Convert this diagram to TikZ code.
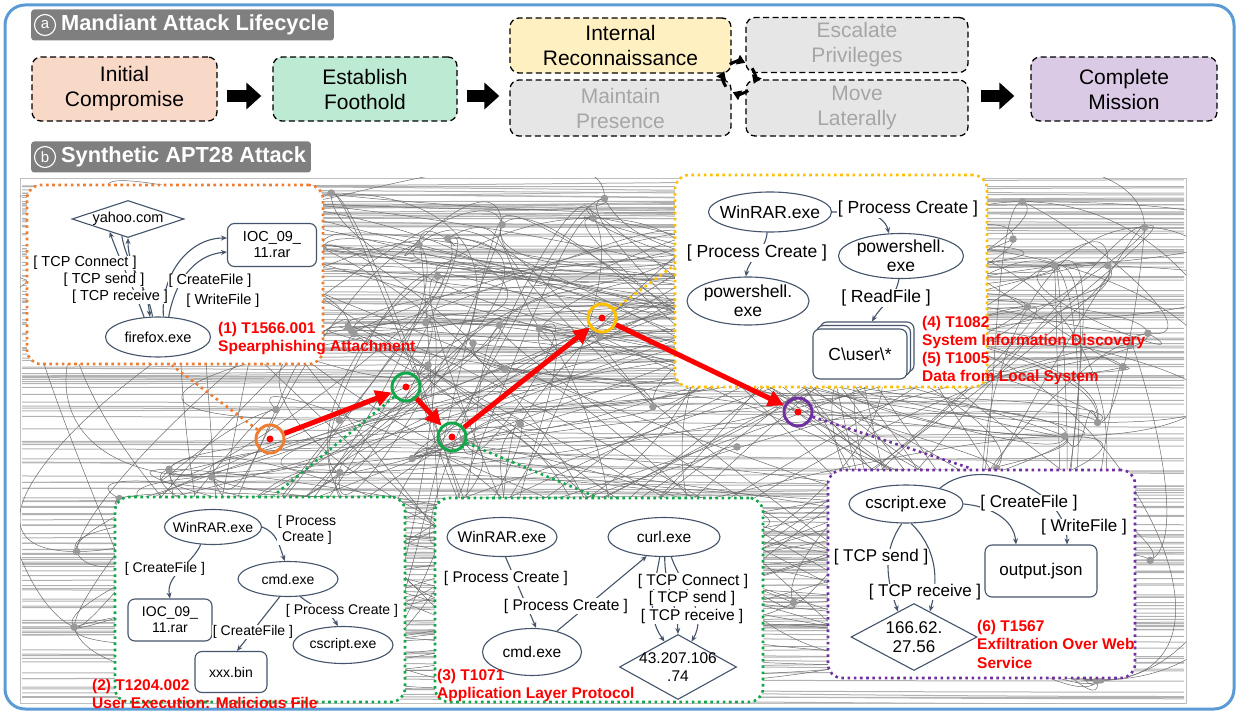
\documentclass[tikz,border=0pt]{standalone}
\usepackage{fontspec}
\setmainfont{Liberation Sans}
\usepackage{xcolor}
\usetikzlibrary{positioning,calc,arrows.meta,shapes.geometric,shadows}

\definecolor{framec}{HTML}{5B9BD5}
\definecolor{peach}{HTML}{F8D9C7}
\definecolor{mint}{HTML}{BDEAD2}
\definecolor{cream}{HTML}{FFF0C2}
\definecolor{lilac}{HTML}{DBCAE5}
\definecolor{greybox}{HTML}{E6E6E6}
\definecolor{greytext}{HTML}{A6A6A6}
\definecolor{tagc}{HTML}{7F7F7F}
\definecolor{edgec}{HTML}{44546A}
\definecolor{orangec}{HTML}{EE7D31}
\definecolor{greenc}{HTML}{12A84A}
\definecolor{yellowc}{HTML}{FFC000}
\definecolor{purplec}{HTML}{7030A0}

\begin{document}
\begin{tikzpicture}[x=1pt,y=1pt,
  phase/.style={draw, dash pattern=on 6pt off 3.5pt, line width=1.3, rounded corners=9, align=center, inner sep=0, font=\fontsize{21}{25}\selectfont},
  idle/.style={phase, fill=greybox, text=greytext, minimum width=222, minimum height=55},
  tag/.style={fill=tagc, text=white, rounded corners=3, inner xsep=5, inner ysep=0, minimum height=31, anchor=west, font=\fontsize{21.8}{23}\selectfont\bfseries},
  tagmark/.style={circle, draw=white, line width=1.1, text=white, minimum size=21, inner sep=0, font=\fontsize{15}{15}\selectfont},
  bigarrow/.style={line width=12, -{Triangle[length=15,width=26]}},
  cyc/.style={line width=3, -{Triangle[length=8,width=10]}},
  band/.style={draw=black!30, line width=1},
  wire/.style={draw=black!58, line width=0.5},
  dotbox/.style={draw=#1, fill=white, line width=2.6, dash pattern=on 2.6pt off 3.6pt, rounded corners=14},
  link/.style={draw=#1, line width=2.6, dash pattern=on 2.6pt off 3.6pt},
  proc/.style={ellipse, draw=edgec, line width=1.1, fill=white, align=center, inner xsep=-7, inner ysep=-2},
  filebox/.style={rounded corners=7, draw=edgec, line width=1.1, fill=white, align=center, inner sep=0},
  ip/.style={diamond, draw=edgec, line width=1.1, fill=white, inner sep=0},
  flow/.style={draw=edgec, line width=1.1, -{Stealth[length=6,width=5]}},
  elab/.style={fill=white, inner sep=0.5},
  tech/.style={text=red, align=left, anchor=north west, inner sep=0, font=\fontsize{15.5}{18.5}\selectfont\bfseries},
  ring/.style={circle, draw=#1, line width=3, minimum size=28, inner sep=0},
  hop/.style={draw=red, line width=5, -{Triangle[length=16,width=16]}}
]
\useasboundingbox (0,0) rectangle (1239,-714);
\draw[framec, line width=3, rounded corners=20] (5,-5) rectangle (1234,-709);

% lifecycle
\node[tag] (taga) at (31,-25) {\hspace*{25pt}Mandiant Attack Lifecycle};
\node[tagmark] (marka) at (45,-25) {a};
\node[phase, fill=peach, minimum width=185, minimum height=64] (ic) at (124.5,-89) {Initial\\Compromise};
\node[phase, fill=mint, minimum width=184, minimum height=64] (ef) at (365,-89) {Establish\\Foothold};
\node[phase, fill=cream, minimum width=221, minimum height=55] (ir) at (620.5,-45.5) {Internal\\Reconnaissance};
\node[idle, minimum width=221, minimum height=56] (mp) at (620.5,-108) {Maintain\\Presence};
\node[idle] (ep) at (857,-45) {Escalate\\Privileges};
\node[idle, minimum height=56] (mlat) at (857,-108) {Move\\Laterally};
\node[phase, fill=lilac, minimum width=186, minimum height=64] (cm) at (1124,-89) {Complete\\Mission};

\draw[bigarrow, shorten <=9, shorten >=11] ([yshift=-7]ic.east) -- ([yshift=-7]ef.west);
\draw[bigarrow, shorten <=9, shorten >=10] ([yshift=-7]ef.east) -- ([yshift=-7]ef.east -| ir.west);
\draw[bigarrow, shorten <=12, shorten >=16] ([yshift=-7]cm.west -| mlat.east) -- ([yshift=-7]cm.west);
\coordinate (cc) at (739,-77.5);
\foreach \s in {125,35,-55,-145}
  \draw[cyc] ([shift={(\s:16)}]cc) arc[start angle=\s, end angle=\s-58, radius=16];

% APT28 graph
\node[tag] (tagb) at (31,-157) {\hspace*{25pt}Synthetic APT28 Attack};
\node[tagmark] (markb) at (45,-157) {b};
\draw[black!25, line width=0.8] (20,-178) rectangle (1186,-703);
\begin{scope}
\clip (20,-178) rectangle (1186,-703);
\pgfmathsetseed{2718}
\foreach \i in {1,...,95}{
  \pgfmathsetmacro\gx{35+1140*rnd}
  \pgfmathsetmacro\gy{-190-505*rnd}
  \coordinate (n\i) at (\gx,\gy);
}
\foreach \k in {1,...,160}{
  \pgfmathsetmacro\ya{-184-514*rnd}
  \pgfmathsetmacro\yb{\ya+24*rnd-12}
  \draw[band] (22,\ya) .. controls (450,\ya) and (750,\yb) .. (1184,\yb);
}
\foreach \k in {1,...,240}{
  \pgfmathtruncatemacro\ea{random(1,95)}
  \pgfmathtruncatemacro\eb{mod(\ea+random(1,90),95)+1}
  \pgfmathtruncatemacro\eo{random(0,359)}
  \pgfmathtruncatemacro\eq{random(0,359)}
  \pgfmathsetmacro\ed{20+80*rnd}
  \draw[wire] (n\ea) .. controls +(\eo:\ed) and +(\eq:\ed) .. (n\eb);
}
\foreach \k in {1,...,25}{
  \pgfmathtruncatemacro\ea{random(1,95)}
  \pgfmathtruncatemacro\eb{mod(\ea+random(1,90),95)+1}
  \pgfmathsetmacro\ed{150+250*rnd}
  \draw[wire] (n\ea) .. controls +(0:\ed) and +(0:\ed) .. (n\eb);
  \draw[wire] (n\eb) .. controls +(180:\ed) and +(180:\ed) .. (n\ea);
}
\foreach \i in {1,...,95}
  \fill[black!40] (n\i) circle[radius=3.8];
\end{scope}

% (1) orange
\node[dotbox=orangec, minimum width=296, minimum height=179] (obox) at (175,-274.5) {};
\begin{scope}[every node/.append style={font=\fontsize{14.5}{16}\selectfont}]
\node[ip, minimum width=112, minimum height=37, label={center:yahoo.com}] (yahoo) at (128,-219) {};
\node[filebox, minimum width=89, minimum height=43] (ioca) at (272,-245) {IOC\_09\_\\11.rar};
\node[proc, minimum width=105, minimum height=40] (ff) at (158,-337) {firefox.exe};
\draw[flow] (ff.125) to[out=110,in=-70] (yahoo.215);
\draw[flow] (ff.105) to[out=100,in=-90] (yahoo.south);
\draw[flow] (yahoo.250) to[out=-80,in=95] (ff.112);
\draw[flow] (ff.75) to[out=95,in=180] ([yshift=7]ioca.west);
\draw[flow] (ff.62) to[out=80,in=185] ([yshift=-7]ioca.west);
\node[elab] at (85,-263) {[ TCP Connect ]};
\node[elab] at (104,-280) {[ TCP send ]};
\node[elab] at (120,-297) {[ TCP receive ]};
\node[elab] at (210,-281) {[ CreateFile ]};
\node[elab] at (223,-301) {[ WriteFile ]};
\end{scope}
\node[tech] (tone) at (218,-322) {(1) T1566.001\\Spearphishing Attachment};

% (4)(5) yellow
\node[dotbox=yellowc, minimum width=312, minimum height=212] (ybox) at (831,-281) {};
\begin{scope}[every node/.append style={font=\fontsize{17.5}{19}\selectfont}]
\node[proc, minimum width=123, minimum height=40] (yw) at (770,-212) {WinRAR.exe};
\node[proc, minimum width=125, minimum height=45] (ypa) at (901,-256) {powershell.\\exe};
\node[proc, minimum width=122, minimum height=48] (ypb) at (748,-301) {powershell.\\exe};
\node[filebox, minimum width=94, minimum height=50,
  copy shadow={shadow xshift=7, shadow yshift=7, draw=edgec, fill=white, line width=1.1},
  copy shadow={shadow xshift=3.5, shadow yshift=3.5, draw=edgec, fill=white, line width=1.1}] (ycu) at (860,-354) {C\textbackslash user\textbackslash *};
\draw[flow] (yw.east) to[out=0,in=105] (ypa.118);
\draw[flow] (yw.262) to[out=-95,in=80] (ypb.95);
\draw[flow] (ypa.265) to[out=-100,in=60] ([xshift=12,yshift=7]ycu.north);
\node[elab] at (908,-209) {[ Process Create ]};
\node[elab] at (757,-253) {[ Process Create ]};
\node[elab] at (886,-298) {[ ReadFile ]};
\end{scope}
\node[tech, font=\fontsize{15.5}{18}\selectfont\bfseries] (tfour) at (922,-316) {(4) T1082\\System Information Discovery\\(5) T1005\\Data from Local System};

% (2) green
\node[dotbox=greenc, minimum width=290, minimum height=205] (gbox1) at (260,-599.5) {};
\begin{scope}[every node/.append style={font=\fontsize{14}{16}\selectfont}]
\node[proc, minimum width=97, minimum height=35] (ga) at (213,-527) {WinRAR.exe};
\node[proc, minimum width=100, minimum height=35] (gb) at (288,-579) {cmd.exe};
\node[filebox, minimum width=84, minimum height=42] (gc) at (170,-620) {IOC\_09\_\\11.rar};
\node[proc, minimum width=100, minimum height=37] (gd) at (343,-645) {cscript.exe};
\node[filebox, minimum width=72, minimum height=41] (ge) at (231,-672) {xxx.bin};
\draw[flow] (ga.235) to[out=245,in=100] (gc.north);
\draw[flow] (ga.east) to[out=-20,in=110] (gb.100);
\draw[flow] (gb.305) to[out=-40,in=120] (gd.105);
\draw[flow] (gb.245) -- ([xshift=6]ge.north);
\node[elab, align=center] at (307,-530) {[ Process\\Create ]};
\node[elab] at (165,-569) {[ CreateFile ]};
\node[elab] at (342,-611) {[ Process Create ]};
\node[elab] at (253,-632) {[ CreateFile ]};
\end{scope}
\node[tech, font=\fontsize{15.5}{18}\selectfont\bfseries] (ttwo) at (92,-679) {(2) T1204.002\\User Execution: Malicious File};

% (3) green
\node[dotbox=greenc, minimum width=328, minimum height=204] (gbox2) at (599,-600) {};
\begin{scope}[every node/.append style={font=\fontsize{15.5}{17.5}\selectfont}]
\node[proc, minimum width=110, minimum height=39] (ha) at (502,-537) {WinRAR.exe};
\node[proc, minimum width=99, minimum height=47] (hb) at (532,-652) {cmd.exe};
\node[proc, minimum width=112, minimum height=39] (hc) at (664,-537) {curl.exe};
\node[ip, minimum width=117, minimum height=65, label={[align=center]center:43.207.106\\.74}] (hd) at (678,-667) {};
\draw[flow] (ha.280) -- (hb.80);
\draw[flow] (hb.40) -- (hc.228);
\draw[flow] (hc.258) to[out=-100,in=125] (hd.118);
\draw[flow] (hc.272) to[out=-90,in=92] (hd.north);
\draw[flow] (hc.290) to[out=-70,in=60] (hd.62);
\node[elab] at (506,-578) {[ Process Create ]};
\node[elab] at (566,-606) {[ Process Create ]};
\node[elab] at (693,-581) {[ TCP Connect ]};
\node[elab] at (692,-598) {[ TCP send ]};
\node[elab] at (692,-616) {[ TCP receive ]};
\end{scope}
\node[tech, font=\fontsize{15.5}{18}\selectfont\bfseries] (tthree) at (437,-669) {(3) T1071\\Application Layer Protocol};

% (6) purple
\node[dotbox=purplec, minimum width=307, minimum height=208] (pbox) at (981.5,-574) {};
\begin{scope}[every node/.append style={font=\fontsize{17}{19}\selectfont}]
\node[proc, minimum width=114, minimum height=38] (pa) at (906,-504) {cscript.exe};
\node[filebox, minimum width=112, minimum height=52] (pb) at (1041,-571) {output.json};
\node[ip, minimum width=126, minimum height=67, label={[align=center]center:166.62.\\27.56}] (pc) at (914,-637) {};
\draw[flow] (pa.east) to[out=-5,in=95] ([xshift=-25]pb.north);
\draw[flow] (pa.25) to[out=40,in=90] ([xshift=26]pb.north);
\draw[flow] (pa.258) to[out=235,in=110] (pc.122);
\draw[flow] (pa.285) to[out=-45,in=75] (pc.58);
\node[elab] at (1029,-503) {[ CreateFile ]};
\node[elab] at (1084,-527) {[ WriteFile ]};
\node[elab] at (881,-557) {[ TCP send ]};
\node[elab] at (925,-592) {[ TCP receive ]};
\end{scope}
\node[tech] (tsix) at (977,-620) {(6) T1567\\Exfiltration Over Web\\Service};

% attack path
\node[ring=orangec] (h1) at (270,-439) {};
\node[ring=greenc] (h2) at (406,-387) {};
\node[ring=greenc] (h3) at (452,-437) {};
\node[ring=yellowc] (h4) at (602,-318) {};
\node[ring=purplec] (h5) at (798,-412) {};
\draw[link=orangec] (h1) -- ([xshift=146]obox.south west);
\draw[link=greenc] (h2) -- ([xshift=160]gbox1.north west);
\draw[link=greenc] (h3) -- ([xshift=162]gbox2.north west);
\draw[link=yellowc] (h4) -- ([yshift=-92]ybox.north west);
\draw[link=purplec] (h5) -- ([xshift=145]pbox.north west);
\draw[hop] (h1) -- (h2);
\draw[hop] (h2) -- (h3);
\draw[hop] (h3) -- (h4);
\draw[hop] (h4) -- (h5);
\foreach \h in {h1,h2,h3,h4,h5}
  \fill[red] (\h) circle[radius=3.5];
\end{tikzpicture}
\end{document}
